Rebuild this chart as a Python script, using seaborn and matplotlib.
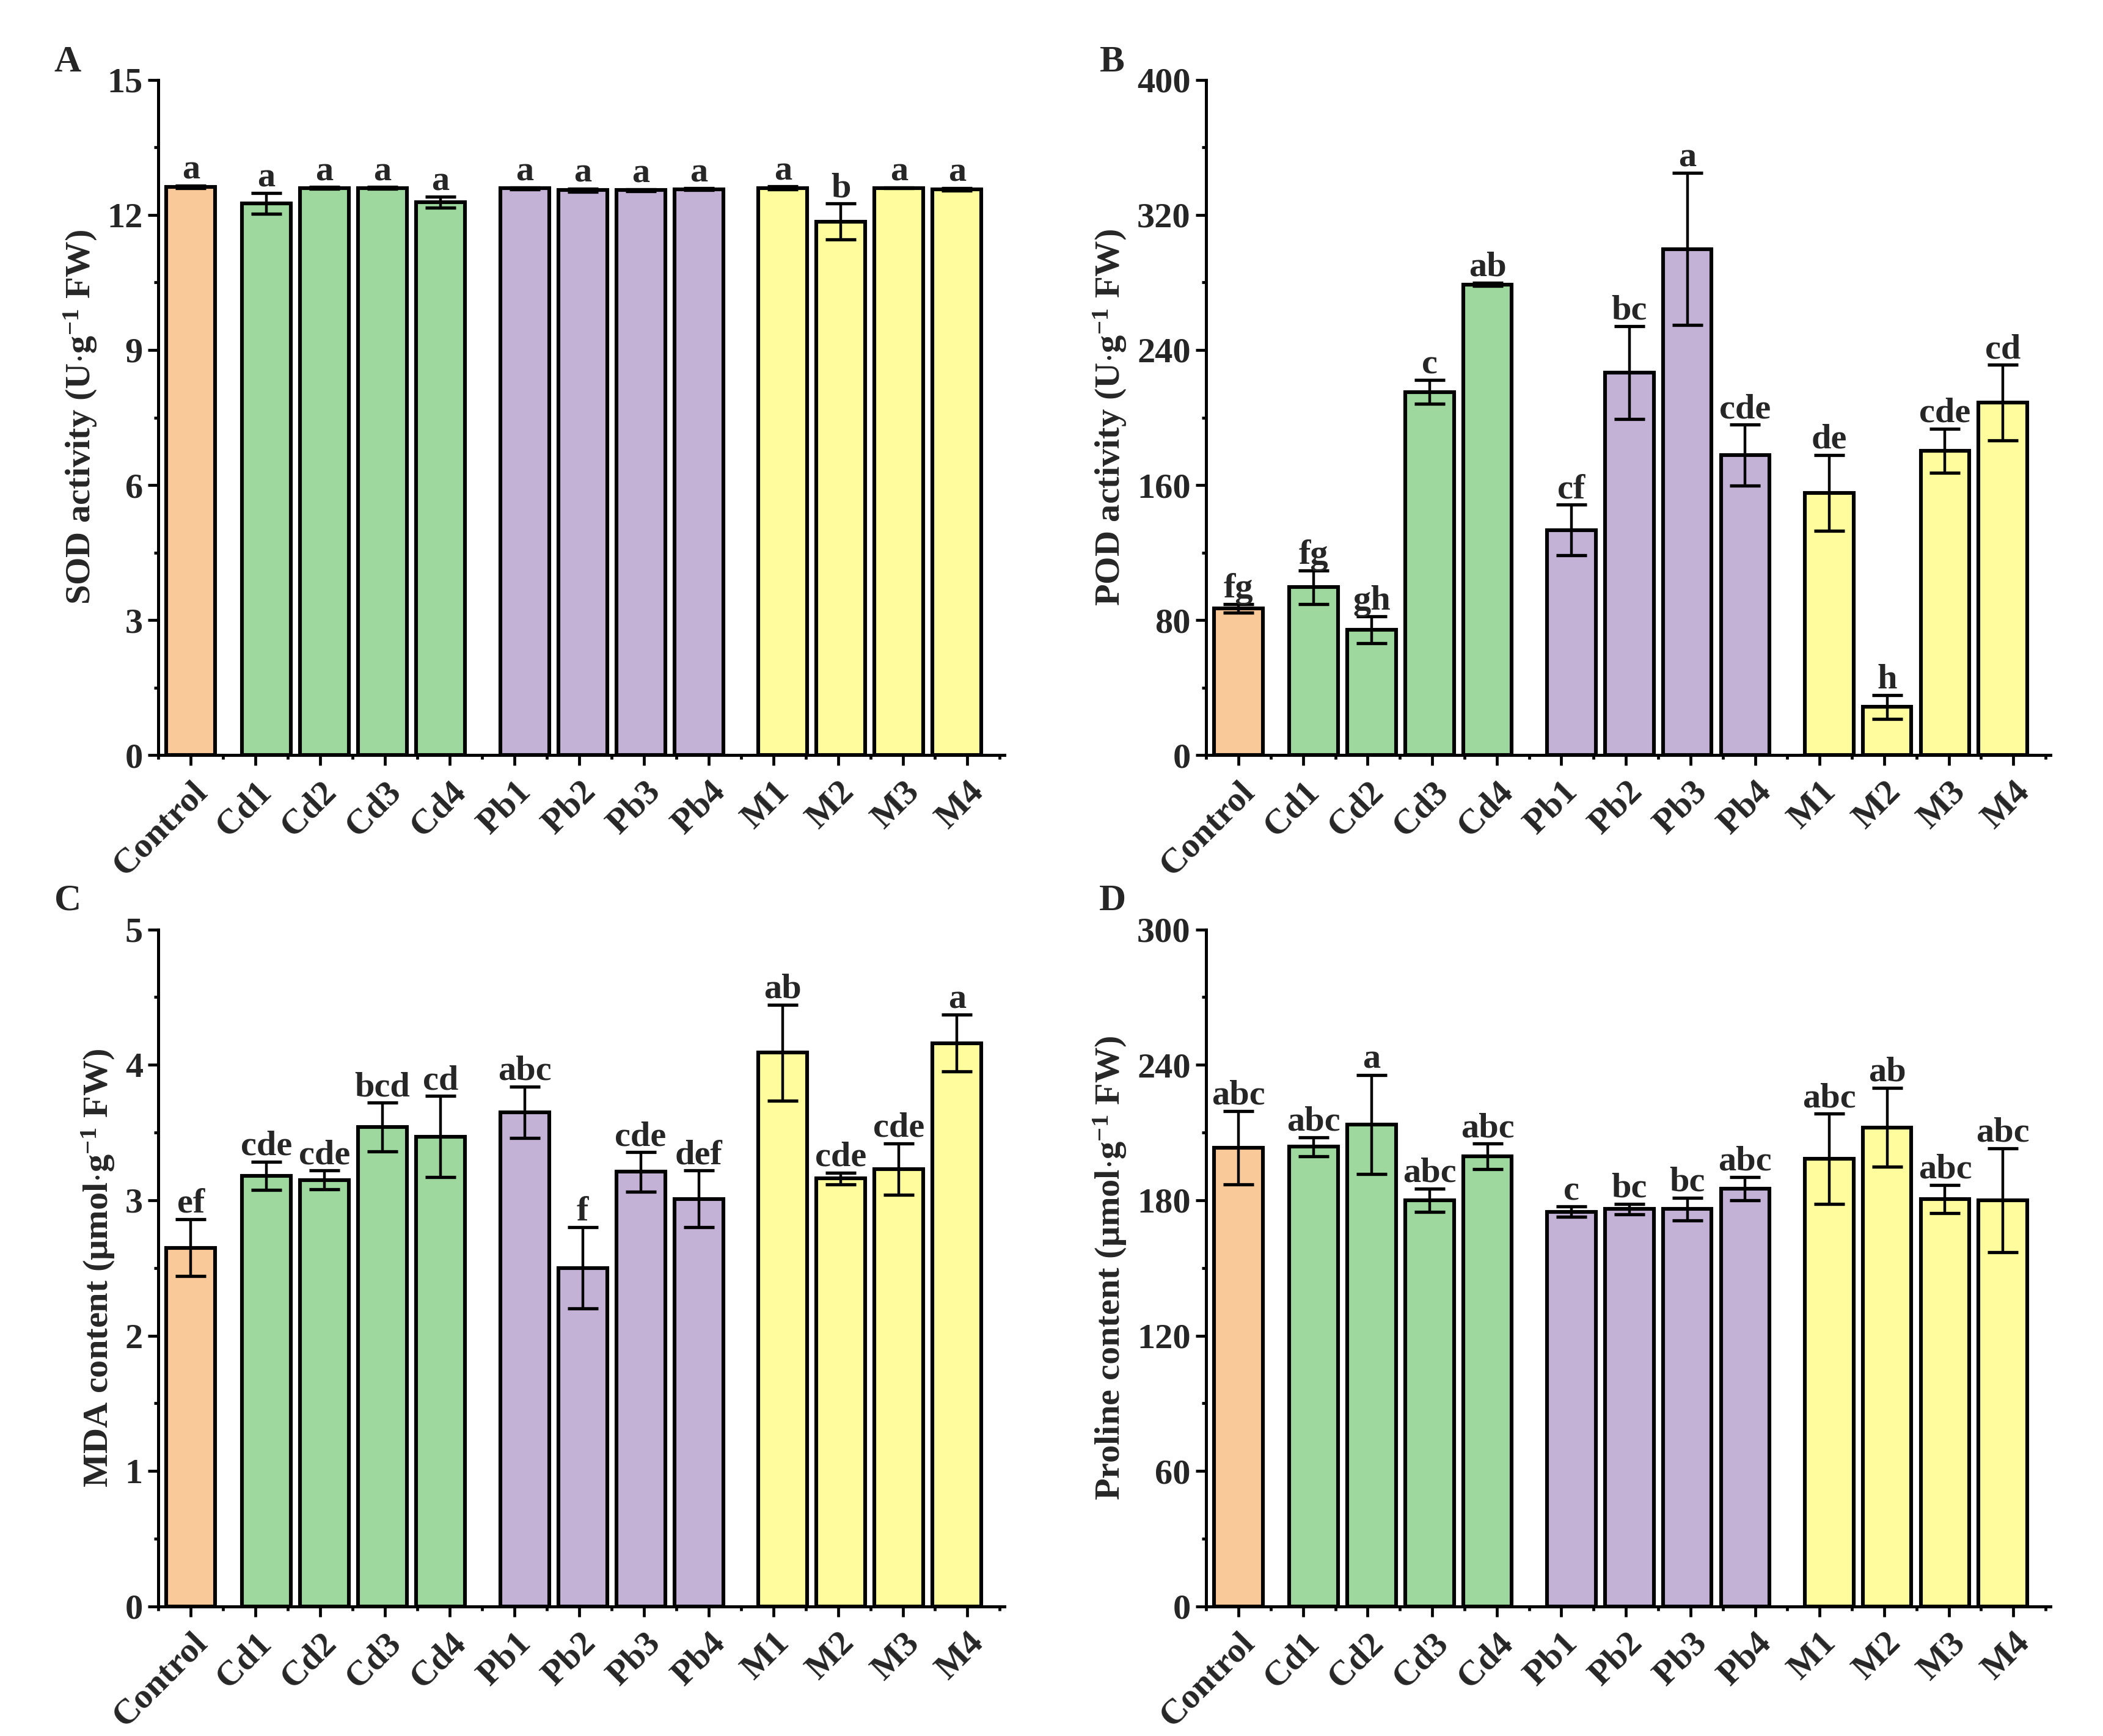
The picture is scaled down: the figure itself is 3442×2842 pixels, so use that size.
import numpy as np
import pandas as pd
import seaborn as sns
import matplotlib.pyplot as plt
from matplotlib.ticker import MultipleLocator

# ---------------- data ----------------
treatments = ["Control", "Cd1", "Cd2", "Cd3", "Cd4", "Pb1", "Pb2", "Pb3", "Pb4",
              "M1", "M2", "M3", "M4"]
groups = ["Control", "Cd", "Cd", "Cd", "Cd", "Pb", "Pb", "Pb", "Pb", "M", "M", "M", "M"]

sod_mean = [12.62, 12.25, 12.60, 12.60, 12.28, 12.59, 12.55, 12.55, 12.57, 12.60, 11.85, 12.60, 12.57]
sod_err = [0.03, 0.23, 0.02, 0.02, 0.12, 0.02, 0.03, 0.02, 0.02, 0.03, 0.40, 0.01, 0.03]
sod_letters = ["a", "a", "a", "a", "a", "a", "a", "a", "a", "a", "b", "a", "a"]

pod_mean = [87.0, 99.5, 74.2, 215.1, 278.8, 133.3, 226.6, 299.8, 177.7, 155.3, 28.6, 180.3, 208.9]
pod_err = [2.5, 10.0, 8.0, 7.0, 1.0, 15.0, 27.6, 45.0, 18.0, 22.5, 7.0, 13.0, 22.3]
pod_letters = ["fg", "fg", "gh", "c", "ab", "cf", "bc", "a", "cde", "de", "h", "cde", "cd"]

mda_mean = [2.65, 3.18, 3.15, 3.54, 3.47, 3.65, 2.50, 3.21, 3.01, 4.09, 3.16, 3.23, 4.16]
mda_err = [0.21, 0.105, 0.07, 0.18, 0.30, 0.19, 0.30, 0.145, 0.21, 0.355, 0.045, 0.19, 0.21]
mda_letters = ["ef", "cde", "cde", "bcd", "cd", "abc", "f", "cde", "def", "ab", "cde", "cde", "a"]

pro_mean = [203.2, 203.7, 213.5, 180.0, 199.5, 174.9, 176.1, 176.1, 185.2, 198.3, 212.3, 180.5, 180.0]
pro_err = [16.3, 4.3, 22.0, 5.2, 5.6, 2.3, 2.3, 5.0, 5.2, 20.0, 17.5, 6.3, 23.0]
pro_letters = ["abc", "abc", "a", "abc", "abc", "c", "bc", "bc", "abc", "abc", "ab", "abc", "abc"]

palette = {"Control": "#FAC999", "Cd": "#9ED89E", "Pb": "#C3B2D6", "M": "#FFFC9E"}

# ---------------- style ----------------
sns.set_theme(style="ticks")
plt.rcParams['font.family'] = ['Liberation Serif', 'DejaVu Serif']
plt.rcParams['font.weight'] = 'bold'
plt.rcParams['axes.labelweight'] = 'bold'
plt.rcParams['mathtext.fontset'] = 'custom'
plt.rcParams['mathtext.rm'] = 'Liberation Serif:bold'
plt.rcParams['mathtext.bf'] = 'Liberation Serif:bold'
plt.rcParams['mathtext.default'] = 'bf'

FS = 21

# bar positions with gaps between treatment groups
pos = []
p = 0.0
for i, g in enumerate(groups):
    if i > 0:
        if g != groups[i - 1]:
            p += 1.30 if groups[i - 1] == "Control" else 1.45
        else:
            p += 1.0
    pos.append(p)
pos = np.array(pos)
tick_pos = np.arange(len(treatments)) * 1.115
minor_pos = np.arange(-1, len(treatments)) * 1.115 + 0.5575

fig = plt.figure(figsize=(17.21, 14.21), dpi=200)

panels = [
    ("A", sod_mean, sod_err, sod_letters, 15, 3, r"SOD activity (U$\cdot$g$^{-1}$ FW)",
     [0.0753, 0.565, 0.4024, 0.389]),
    ("B", pod_mean, pod_err, pod_letters, 400, 80, r"POD activity (U$\cdot$g$^{-1}$ FW)",
     [0.5735, 0.565, 0.4015, 0.389]),
    ("C", mda_mean, mda_err, mda_letters, 5, 1, r"MDA content (μmol$\cdot$g$^{-1}$ FW)",
     [0.0753, 0.0746, 0.4024, 0.390]),
    ("D", pro_mean, pro_err, pro_letters, 300, 60, r"Proline content (μmol$\cdot$g$^{-1}$ FW)",
     [0.5735, 0.0746, 0.4015, 0.390]),
]

letter_xy = {"A": (0.0322, 0.964), "B": (0.529, 0.964), "C": (0.0322, 0.481), "D": (0.529, 0.481)}

for tag, mean, err, letters, ymax, ystep, ylabel, rect in panels:
    ax = fig.add_axes(rect)
    df = pd.DataFrame({"pos": pos, "value": mean, "group": groups})
    sns.barplot(data=df, x="pos", y="value", hue="group", palette=palette,
                native_scale=True, dodge=False, width=0.84, errorbar=None,
                saturation=1, edgecolor="black", linewidth=2.2, legend=False,
                ax=ax, zorder=2)
    ax.errorbar(pos, mean, yerr=err, fmt="none", ecolor="black", elinewidth=1.6,
                capsize=9, capthick=1.9, zorder=3)
    for x, m, e, t in zip(pos, mean, err, letters):
        ax.annotate(t, (x, m + e), xytext=(0, 4), textcoords="offset points",
                    ha="center", va="baseline", fontsize=FS, fontweight="bold")
    ax.set_xlim(-0.56, 14.02)
    ax.set_ylim(0, ymax)
    ax.yaxis.set_major_locator(MultipleLocator(ystep))
    ax.yaxis.set_minor_locator(MultipleLocator(ystep / 2))
    ax.set_xticks(tick_pos)
    ax.set_xticks(minor_pos, minor=True)
    ax.set_xticklabels(treatments, rotation=45, ha="right", va="top",
                       rotation_mode="anchor", fontsize=FS, fontweight="bold")
    ax.tick_params(axis="y", labelsize=FS)
    for lab in ax.get_yticklabels():
        lab.set_fontweight("bold")
    ax.tick_params(which="major", direction="out", length=6.1, width=1.7, color="black", pad=3)
    ax.tick_params(which="minor", direction="out", length=2.6, width=1.7, color="black")
    ax.tick_params(axis="x", which="major", pad=6)
    ax.set_xlabel("")
    ax.set_ylabel(ylabel, fontsize=FS, fontweight="bold", labelpad=5)
    for s in ["top", "right"]:
        ax.spines[s].set_visible(False)
    for s in ["left", "bottom"]:
        ax.spines[s].set_linewidth(1.8)
        ax.spines[s].set_color("black")
    ax.set_facecolor("white")
    fig.text(*letter_xy[tag], tag, fontsize=22, fontweight="bold", ha="center", va="center")

fig.savefig("out.png", dpi=200, facecolor="white")
